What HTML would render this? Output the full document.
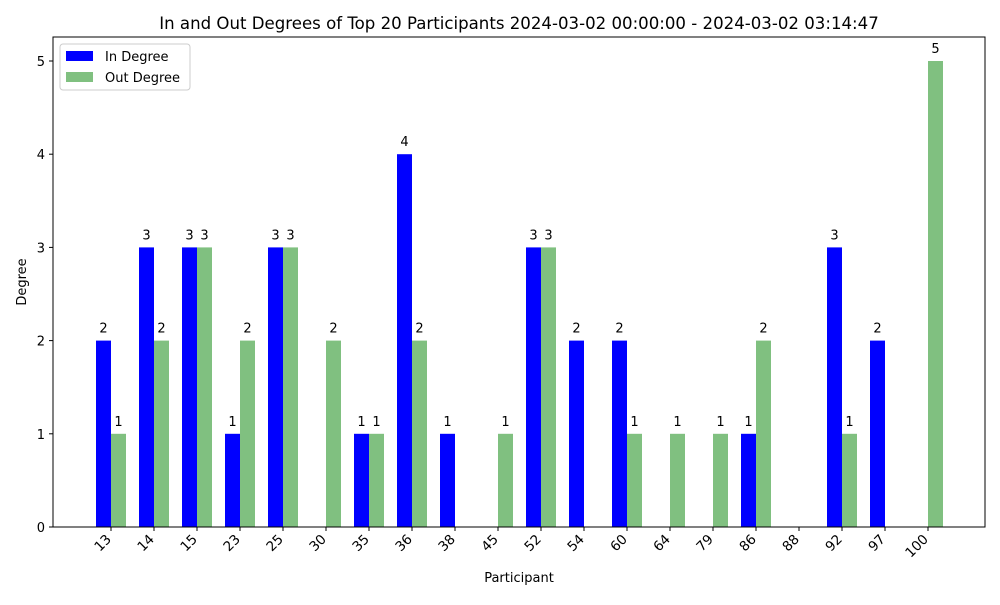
<!DOCTYPE html>
<html><head><meta charset="utf-8"><style>
body{margin:0;background:#fff;font-family:"Liberation Sans","DejaVu Sans",sans-serif;}
</style></head><body>
<svg id="chart" width="1000" height="600" xmlns="http://www.w3.org/2000/svg" font-family="DejaVu Sans, Liberation Sans, sans-serif">
<rect width="1000" height="600" fill="#fff"/>
<text x="519" y="29" font-size="16.6" text-anchor="middle">In and Out Degrees of Top 20 Participants 2024-03-02 00:00:00 - 2024-03-02 03:14:47</text>
<g id="marks"></g>
<rect x="53" y="37" width="932" height="490" fill="none" stroke="#000" stroke-width="1"/>
<text x="519" y="582" font-size="13" text-anchor="middle">Participant</text>
<text transform="translate(26,282) rotate(-90)" font-size="13" text-anchor="middle">Degree</text>
<g>
<rect x="60" y="44" width="130" height="46" fill="#fff" stroke="#ccc" rx="3"/>
<rect x="66" y="51" width="27" height="10" fill="#0000ff"/>
<text x="105" y="61" font-size="13">In Degree</text>
<rect x="66" y="72" width="27" height="10" fill="#80c080"/>
<text x="105" y="82" font-size="13">Out Degree</text>
</g>
</svg>
<script>
const categories=["13","14","15","23","25","30","35","36","38","45","52","54","60","64","79","86","88","92","97","100"];
const inDegree=[2,3,3,1,3,0,1,4,1,0,3,2,2,0,0,1,0,3,2,0];
const outDegree=[1,2,3,2,3,2,1,2,0,1,3,0,1,1,1,2,0,1,0,5];
const yTicks=[0,1,2,3,4,5];
const NS="http://www.w3.org/2000/svg";
const g=document.getElementById('marks');
const xPos=i=>111+i*43;
const yPos=v=>527-v*93.2;
const bw=15;
function mk(tag,attrs){const e=document.createElementNS(NS,tag);for(const k in attrs)e.setAttribute(k,attrs[k]);g.appendChild(e);return e;}
yTicks.forEach(t=>{
  const l=mk('line',{x1:49,x2:53,y1:yPos(t),y2:yPos(t),stroke:'#000'});
  
  
  const tx=mk('text',{x:45,y:yPos(t)+5,'font-size':13,'text-anchor':'end'});tx.textContent=t;
  
  
});
categories.forEach((c,i)=>{
  const x=xPos(i);
  const l=mk('line',{x1:x,x2:x,y1:527,y2:531,stroke:'#000'});
  
  
  const tx=mk('text',{x:0,y:0,'font-size':13.5,'text-anchor':'end',transform:`translate(${x+1},${540}) rotate(-45)`});tx.textContent=c;
  
  
  [[inDegree[i],x-bw,'#0000ff','in'],[outDegree[i],x,'#80c080','out']].forEach(([v,bx,col,s])=>{
    const r=mk('rect',{x:bx,y:yPos(v),width:bw,height:527-yPos(v),fill:col});
    
    
    if(v>0){const t=mk('text',{x:bx+bw/2,y:yPos(v)-8,'font-size':13,'text-anchor':'middle'});t.textContent=v;
      
      }
  });
});
</script>
</body></html>
